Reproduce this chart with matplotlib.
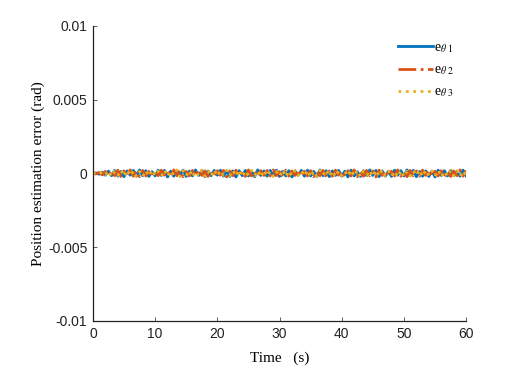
import numpy as np
import matplotlib.pyplot as plt

plt.rcParams['font.family'] = ['Liberation Sans', 'DejaVu Sans']
plt.rcParams['mathtext.fontset'] = 'stix'

# estimation errors, in units of 1.7e-5 rad, sampled evenly over 0..60 s
unit = 1.7e-5
e1 = [0, 2, -3, 5, -7, 9, -9, 12, -11, 8, -13, 10, -7, 12, -10, 14, -9, 11, -12, 7,
      -10, 13, -8, 12, -14, 9, -11, 10, -6, 13, -12, 9, -10, 14, -8, 11, -13, 10, -9, 12,
      -7, 13, -11, 8, -12, 10, -14, 11, -9, 12, -10, 7, -13, 14, -8, 10, -11, 12, -9, 13,
      -12, 8, -10, 11, -14, 9, -7, 12, -11, 13, -10, 8, -12, 14, -9, 11, -13, 10, -8, 12,
      -11, 9, -14, 13, -10, 7, -12, 11, -9, 14, -8, 12, -13, 10, -11, 9, -12, 13, -7, 11,
      -10, 14, -9, 12, -13, 8, -11, 10, -12, 9, -14, 13, -8, 11, -10, 12, -9, 7, -11, 13, -10]
e2 = [0, -2, 4, -6, 8, -10, 11, -9, 13, -12, 10, -8, 14, -11, 9, -13, 12, -10, 8, -14,
      11, -9, 13, -7, 10, -12, 14, -9, 11, -13, 8, -10, 12, -11, 14, -8, 10, -12, 9, -13,
      11, -7, 12, -14, 10, -9, 13, -11, 8, -12, 14, -10, 9, -13, 11, -8, 12, -10, 14, -9,
      7, -12, 13, -11, 10, -8, 14, -12, 9, -10, 11, -13, 8, -9, 12, -14, 10, -11, 13, -7,
      9, -12, 11, -10, 14, -13, 8, -11, 12, -9, 10, -14, 13, -8, 11, -12, 9, -10, 14, -11,
      7, -13, 12, -9, 10, -11, 13, -8, 14, -12, 9, -10, 11, -13, 8, -12, 10, -9, 14, -11, 12]
e3 = [0, 3, -2, 7, -5, 10, -12, 9, -8, 13, -11, 14, -9, 10, -13, 8, -12, 11, -10, 14,
      -8, 9, -11, 13, -12, 10, -7, 14, -13, 11, -9, 12, -14, 8, -10, 13, -11, 9, -12, 14,
      -10, 11, -8, 13, -9, 12, -11, 14, -13, 10, -8, 12, -9, 11, -14, 13, -10, 9, -12, 8,
      -11, 14, -13, 10, -9, 12, -8, 11, -10, 13, -14, 9, -11, 12, -7, 14, -12, 10, -13, 11,
      -9, 8, -10, 14, -11, 12, -13, 9, -8, 11, -12, 13, -10, 14, -9, 10, -11, 8, -14, 12,
      -13, 9, -10, 11, -8, 14, -12, 13, -9, 10, -11, 12, -14, 8, -10, 13, -9, 11, -12, 10, -8]

series = [
    (e1, r'e$_{\theta\ 1}$', '#0072BD', '-'),
    (e2, r'e$_{\theta\ 2}$', '#D95319', '-.'),
    (e3, r'e$_{\theta\ 3}$', '#EDB120', ':'),
]

xticks = [0, 10, 20, 30, 40, 50, 60]
yticks = [-0.01, -0.005, 0, 0.005, 0.01]
ytick_labels = ['-0.01', '-0.005', '0', '0.005', '0.01']

fig = plt.figure(figsize=(5.22, 3.75), dpi=100)
ax = fig.add_axes([0.178, 0.144, 0.715, 0.787])

for vals, label, color, ls in series:
    t = np.linspace(0, 60, len(vals))
    ax.plot(t, np.array(vals) * unit, color=color, linestyle=ls, linewidth=2, label=label)

ax.set_xlim(0, 60)
ax.set_ylim(-0.01, 0.01)
ax.set_xticks(xticks)
ax.set_yticks(yticks)
ax.set_yticklabels(ytick_labels)
ax.tick_params(direction='in', length=3, width=0.6, color='#444444',
               labelsize=10, labelcolor='#222222', pad=4)
ax.spines['top'].set_visible(False)
ax.spines['right'].set_visible(False)
for s in ('left', 'bottom'):
    ax.spines[s].set_linewidth(0.9)
    ax.spines[s].set_color('#222222')

ax.set_xlabel('Time   (s)', family='Liberation Serif', fontsize=11, labelpad=8)
ax.set_ylabel('Position estimation error (rad)', family='Liberation Serif', fontsize=11, labelpad=2)

ax.legend(loc='upper right', frameon=False, handlelength=2.5, handletextpad=0.05,
          labelspacing=0.6, prop={'family': 'Liberation Serif', 'size': 10},
          bbox_to_anchor=(1.0, 0.99))

fig.savefig('out.png', dpi=100)
